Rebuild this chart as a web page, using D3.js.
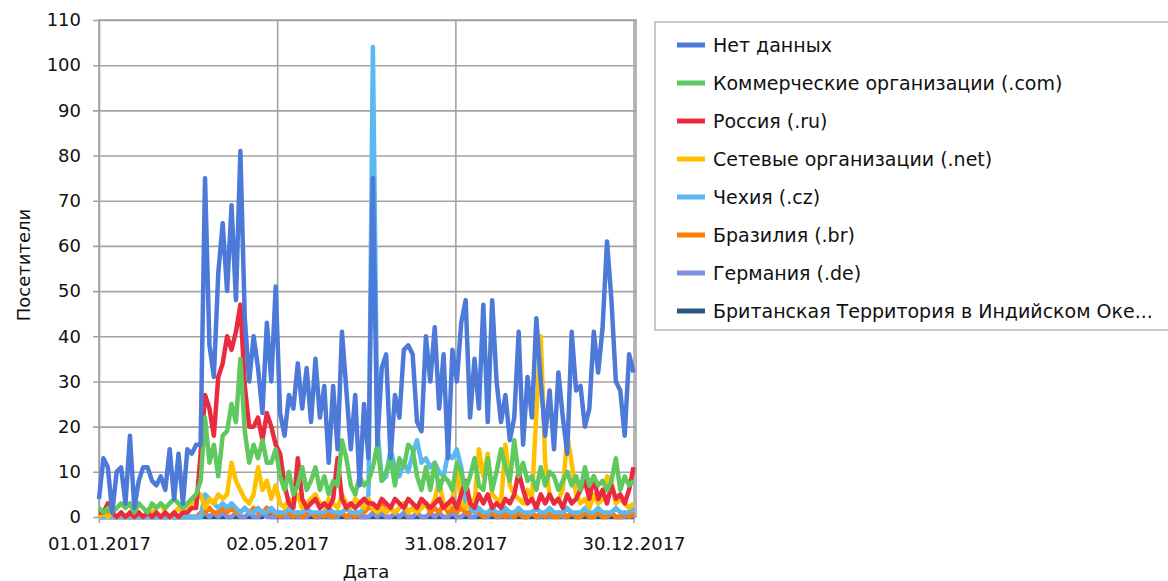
<!DOCTYPE html>
<html>
<head>
<meta charset="utf-8">
<script src="https://cdn.jsdelivr.net/npm/d3@7"></script>
<style>
    body { margin: 0; background: #fff; }
    .standard-text { font-family: "DejaVu Sans", sans-serif; font-size: 18px; fill: #111; }
    .legend-text { font-family: "DejaVu Sans", sans-serif; font-size: 19px; fill: #111; }
</style>
</head>
<body>
<div id="chart-area"></div>
<script>

// data: one sample every 3 days, 01.01.2017 .. 30.12.2017 (122 points)
const seriesNames = ["Нет данных", "Коммерческие организации (.com)", "Россия (.ru)", "Сетевые организации (.net)",
    "Чехия (.cz)", "Бразилия (.br)", "Германия (.de)", "Британская Территория в Индийском Оке..."];
const seriesColors = ["#4d79d8", "#5fc85f", "#ea2a3e", "#ffc000", "#5ab9ef", "#ff7c00", "#7e8fe0", "#2f5784"];

const tickDates = ["01.01.2017", "02.05.2017", "31.08.2017", "30.12.2017"];
const yTicks = [0, 10, 20, 30, 40, 50, 60, 70, 80, 90, 100, 110];

const noData = [4,13,11,1,10,11,3,18,2,8,11,11,8,7,9,6,15,4,14,3,15,14,16,16,
    75,38,31,54,65,50,69,48,81,44,30,40,33,23,43,30,
    51,23,18,27,24,34,24,33,21,35,22,29,12,29,15,41,28,15,27,7,25,13,
    75,16,33,36,13,27,22,37,38,36, 21,19,40,30,42,24,36,13,37,30,
    43,48,22,35,24,47,21,48,30,21, 27,17,22,41,16,31,22,44,30,18,
    28,15,32,22,14,41,28,29,20,24, 41,32,42,61,48,30,28,18,36,32];
const comValues = [2,1,2,1,2,3,2,3,1,3,2,1,3,2,3,2,3,4,3,2,3,4,5,8,
    22,12,16,9,18,19,25,21,35,19,12,16,13,17,12,12,
    15,9,6,10,5,7,11,6,8,11,6,9,5,8,7,17,13,7,5,9,7,8,
    11,16,8,10,13,7,13,11,16,15, 9,6,11,6,12,6,9,8,6,12,
    10,6,9,13,7,6,13,6,10,15, 11,8,17,9,12,8,9,6,11,7,
    10,9,6,8,10,7,9,6,11,7, 9,7,8,6,8,13,6,9,7,8];
const ruValues = [1,1,3,1,0,1,0,1,0,1,0,1,0,1,0,1,0,1,0,1,1,2,2,14,
    27,24,18,31,34,40,37,41,47,29,20,20,22,17,23,20,
    16,14,7,3,2,13,4,2,3,4,2,3,2,4,13,4,2,3,2,3,4,3,
    3,2,4,3,2,4,3,2,4,3, 2,4,3,2,3,4,2,3,4,2,
    5,8,3,2,5,3,5,2,3,2, 4,3,5,10,6,3,4,2,5,3,
    5,3,4,2,5,3,4,6,8,4, 9,4,6,3,7,4,5,3,6,11];
const netValues = [0,1,0,1,0,1,0,1,0,1,0,1,1,2,3,1,0,1,2,1,2,3,4,5,
    2,4,3,5,4,5,12,8,6,4,3,5,11,6,8,4,
    7,3,2,4,3,5,2,3,4,5,3,2,4,3,2,5,3,2,4,3,2,4,
    2,1,2,1,2,1,2,3,1,2, 1,2,3,2,4,8,3,2,4,11,
    3,2,4,3,15,9,14,5,4,3, 16,7,5,4,3,6,4,23,40,12,
    5,3,4,6,18,12,5,3,4,2, 5,3,4,9,8,3,4,3,2,3];
const czValues = [0,0,0,0,0,0,0,0,0,0,0,0,0,0,0,0,0,0,0,0,0,0,0,0,
    5,4,3,2,3,2,3,2,1,2,1,1,2,1,1,2,
    1,1,1,2,1,1,1,2,1,1,1,1,2,1,1,1,2,1,1,1,2,5,
    104,20,8,9,15,11,9,12,10,14, 17,12,13,11,12,10,9,14,13,15,
    11,3,2,1,2,1,1,2,1,1, 2,1,1,2,1,1,1,2,1,1,
    2,1,1,1,2,1,1,1,2,1, 1,2,1,1,1,2,1,1,1,2];
const brValues = [0,0,1,0,0,0,0,0,0,0,0,0,0,0,0,0,0,0,0,0,0,0,0,1,
    1,2,1,1,2,1,2,1,1,2,1,2,1,1,2,1,
    1,0,1,1,0,1,0,1,1,0,1,0,1,0,1,1,0,1,0,1,1,2,
    2,1,3,1,2,1,2,3,1,2, 1,2,3,1,2,1,3,1,2,1,
    2,1,1,3,1,0,1,1,0,1, 0,1,0,1,0,0,1,0,1,0,
    1,0,0,1,0,1,0,0,1,0, 0,1,0,0,1,0,0,1,0,1];
const deValues = [0,0,0,0,0,0,0,0,0,0,0,0,0,0,0,0,0,0,0,0,0,0,0,0,
    1,0,1,0,1,0,0,1,0,0,1,0,0,1,0,0,
    0,1,0,0,1,0,0,0,1,0,0,1,0,0,0,1,0,0,1,0,0,0,
    1,0,1,0,0,1,0,1,0,0, 1,0,0,1,0,1,0,0,1,0,
    0,1,0,0,1,0,0,1,0,0, 1,0,0,1,0,0,1,0,0,1,
    0,0,1,0,0,1,0,0,1,0, 0,1,0,0,1,0,0,0,1,0];
const ioValues = [0,0,0,0,0,0,0,0,0,0,0,0,0,0,0,0,0,0,0,0,0,0,0,0,
    0,0,0,0,0,0,0,0,0,0,0,0,0,0,2,0,
    0,0,0,0,0,0,0,0,0,0,0,0,0,0,0,0,0,0,0,0,0,0,
    0,0,0,0,0,0,0,0,0,0, 0,0,0,0,0,0,0,0,0,0,
    0,0,0,0,0,0,0,0,0,0, 0,0,0,0,0,0,0,0,0,0,
    0,0,0,0,0,0,0,0,0,0, 0,0,0,0,0,0,0,0,0,0];

const allValues = [noData, comValues, ruValues, netValues, czValues, brValues, deValues, ioValues];


class LineVis {
    constructor(_parentElement) {
        this.parentElement = _parentElement;
        this.initVis();
    }

    initVis() {
        let vis = this;

        vis.svg = d3.select("#" + vis.parentElement).append("svg")
            .attr("width", 1168)
            .attr("height", 581)
            .style("display", "block");

        vis.parseDate = d3.timeParse("%d.%m.%Y");
        vis.dates = d3.timeDay.range(new Date(2017, 0, 1), new Date(2017, 11, 31), 3);

        // SCALES
        vis.x = d3.scaleTime()
            .domain([new Date(2017, 0, 1), new Date(2017, 11, 31)])
            .range([99, 635]);

        vis.y = d3.scaleLinear()
            .domain([0, 110])
            .range([517, 20]);

        vis.wrangleData();
    }

    wrangleData() {
        let vis = this;

        vis.displayData = seriesNames.map((name, i) => ({
            name: name,
            color: seriesColors[i],
            values: vis.dates.map((d, j) => ({date: d, value: allValues[i][j]}))
        }));

        vis.updateVis();
    }

    updateVis() {
        let vis = this;

        // grid + axes
        vis.yAxis = d3.axisLeft(vis.y)
            .tickValues(yTicks)
            .tickSize(-(636 - 99))
            .tickPadding(16);

        vis.svg.append("g")
            .attr("class", "axis y-axis")
            .attr("transform", "translate(99,0)")
            .call(vis.yAxis)
            .call(g => g.select(".domain").remove())
            .call(g => g.selectAll(".tick line").attr("x1", -6).attr("stroke", "#a3a3a3").attr("stroke-width", 1.6))
            .call(g => g.selectAll(".tick text").attr("class", "standard-text").attr("x", -18));

        vis.xAxis = d3.axisBottom(vis.x)
            .tickValues(tickDates.map(vis.parseDate))
            .tickFormat(d3.timeFormat("%d.%m.%Y"))
            .tickSize(-(517 - 20))
            .tickPadding(10);

        vis.svg.append("g")
            .attr("class", "axis x-axis")
            .attr("transform", "translate(0,517)")
            .call(vis.xAxis)
            .call(g => g.select(".domain").remove())
            .call(g => g.selectAll(".tick line").attr("y1", 6).attr("stroke", "#a3a3a3").attr("stroke-width", 1.6))
            .call(g => g.selectAll(".tick text").attr("class", "standard-text").attr("y", 20));

        // plot frame
        vis.svg.append("rect")
            .attr("x", 99)
            .attr("y", 20)
            .attr("width", 636 - 99)
            .attr("height", 517 - 20)
            .attr("fill", "none")
            .attr("stroke", "#a3a3a3")
            .attr("stroke-width", 1.6);

        // axis titles
        vis.svg.append("text")
            .attr("class", "standard-text")
            .attr("text-anchor", "middle")
            .attr("x", 366)
            .attr("y", 578)
            .text("Дата");

        vis.svg.append("text")
            .attr("class", "standard-text")
            .attr("text-anchor", "middle")
            .attr("transform", "translate(30,265) rotate(-90)")
            .text("Посетители");

        // lines, last series at the bottom
        vis.line = d3.line()
            .x(d => vis.x(d.date))
            .y(d => vis.y(d.value));

        vis.svg.append("g")
            .attr("class", "lines-group")
            .selectAll("path")
            .data(vis.displayData.slice().reverse())
            .enter()
            .append("path")
            .attr("d", d => vis.line(d.values))
            .attr("fill", "none")
            .attr("stroke", d => d.color)
            .attr("stroke-width", 4.5)
            .attr("stroke-linejoin", "round");

        // Legend
        vis.svg.append("rect")
            .attr("x", 655)
            .attr("y", 22)
            .attr("width", 530)
            .attr("height", 308)
            .attr("fill", "#fff")
            .attr("stroke", "#c8c8c8")
            .attr("stroke-width", 2);

        vis.displayData.forEach((s, i) => {
            vis.svg.append("line")
                .attr("x1", 677)
                .attr("x2", 705)
                .attr("y1", 45 + i * 38)
                .attr("y2", 45 + i * 38)
                .attr("stroke", s.color)
                .attr("stroke-width", 5);
            vis.svg.append("text")
                .attr("class", "legend-text")
                .attr("x", 713)
                .attr("y", 45 + i * 38)
                .attr("dy", "0.35em")
                .text(s.name);
        });
    }
}

new LineVis("chart-area");
</script>
</body>
</html>
